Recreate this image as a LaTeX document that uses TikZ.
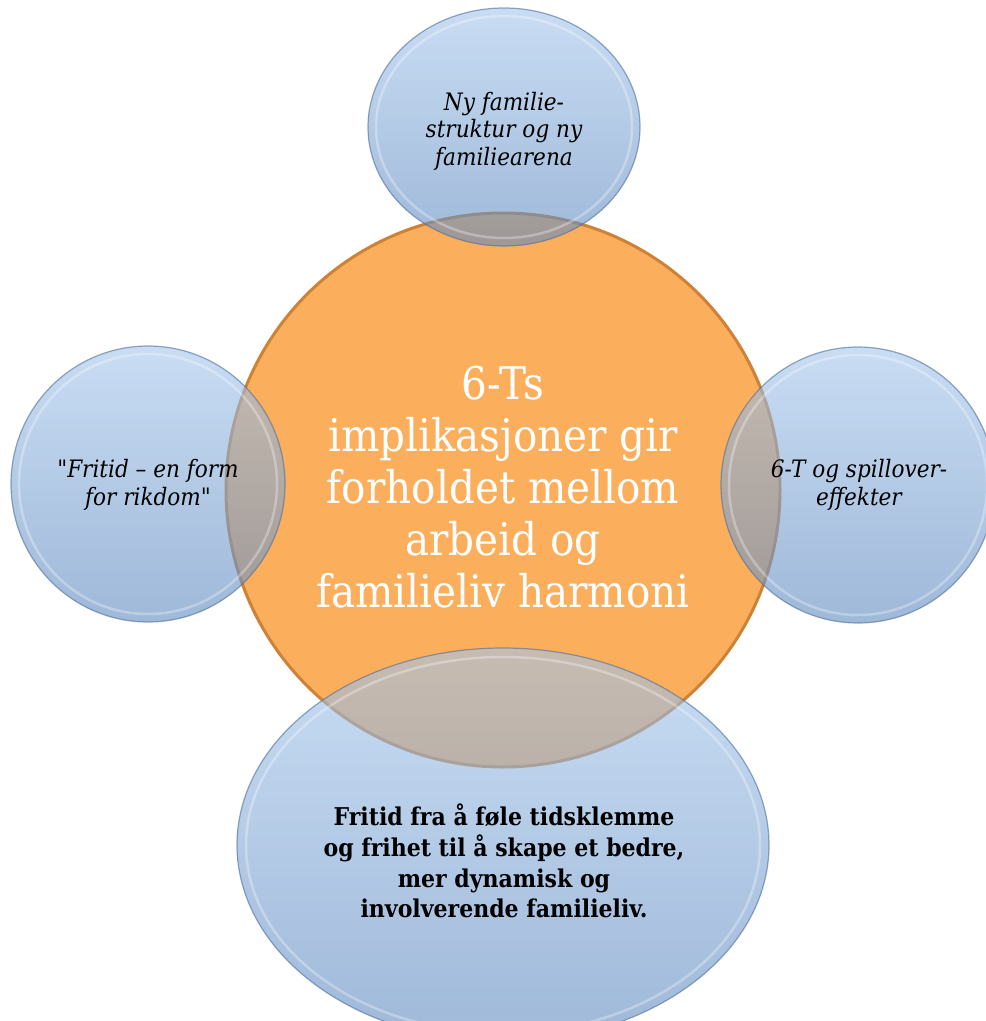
\documentclass[tikz,border=0pt]{standalone}
\usepackage{fontspec}
\setmainfont{DejaVu Serif Condensed}[Ligatures=TeXOff]
\usetikzlibrary{shapes.geometric}
\definecolor{orangefill}{RGB}{251,174,92}
\definecolor{orangeline}{RGB}{205,130,55}
\definecolor{bluetop}{RGB}{165,198,236}
\definecolor{bluebot}{RGB}{95,138,192}
\definecolor{blueline}{RGB}{75,110,155}
\tikzset{
  bubble/.style={ellipse, inner sep=0pt, top color=bluetop, bottom color=bluebot,
    fill opacity=0.6, draw=blueline, draw opacity=0.6, line width=1.2pt},
  rim/.style={ellipse, inner sep=0pt, draw=white, draw opacity=0.3, line width=2.5pt},
  core/.style={circle, inner sep=0pt, fill=orangefill, draw=orangeline, line width=3pt},
  smalltxt/.style={align=center, font=\itshape\fontsize{24}{27.5}\selectfont, text=black},
  boldtxt/.style={align=center, font=\bfseries\fontsize{24.5}{30.7}\selectfont, text=black},
  bigtxt/.style={align=center, font=\fontsize{45}{52}\selectfont, text=white},
}
\begin{document}
\begin{tikzpicture}[x=1pt,y=-1pt]
\useasboundingbox (0,0) rectangle (986,1021);
\clip (0,0) rectangle (986,1021);
\fill[white] (0,0) rectangle (986,1021);
% central circle
\node[core, minimum size=554pt] (c) at (503,490) {};
% bubbles
\node[bubble, minimum width=272pt, minimum height=238pt] (t) at (504,127) {};
\node[rim, minimum width=256pt, minimum height=222pt] (tr) at (504,127) {};
\node[bubble, minimum width=274pt, minimum height=276pt] (l) at (148,484) {};
\node[rim, minimum width=258pt, minimum height=260pt] (lr) at (148,484) {};
\node[bubble, minimum width=274pt, minimum height=276pt] (r) at (858,485) {};
\node[rim, minimum width=258pt, minimum height=260pt] (rr) at (858,485) {};
\node[bubble, minimum width=532pt, minimum height=394pt] (b) at (503,845) {};
\node[rim, minimum width=514pt, minimum height=376pt] (br) at (503,845) {};
% texts
\node[bigtxt] (ct) at (503,487) {6-Ts\\implikasjoner gir\\forholdet mellom\\arbeid og\\familieliv harmoni};
\node[smalltxt] (tt) at (504,131) {Ny familie-\\struktur og ny\\familiearena};
\node[smalltxt] (lt) at (148,485) {"Fritid – en form\\for rikdom"};
\node[smalltxt] (rt) at (859,485) {6-T og spillover-\\effekter};
\node[boldtxt] (bt) at (504,861) {Fritid fra å føle tidsklemme\\og frihet til å skape et bedre,\\mer dynamisk og\\involverende familieliv.};
\end{tikzpicture}
\end{document}
